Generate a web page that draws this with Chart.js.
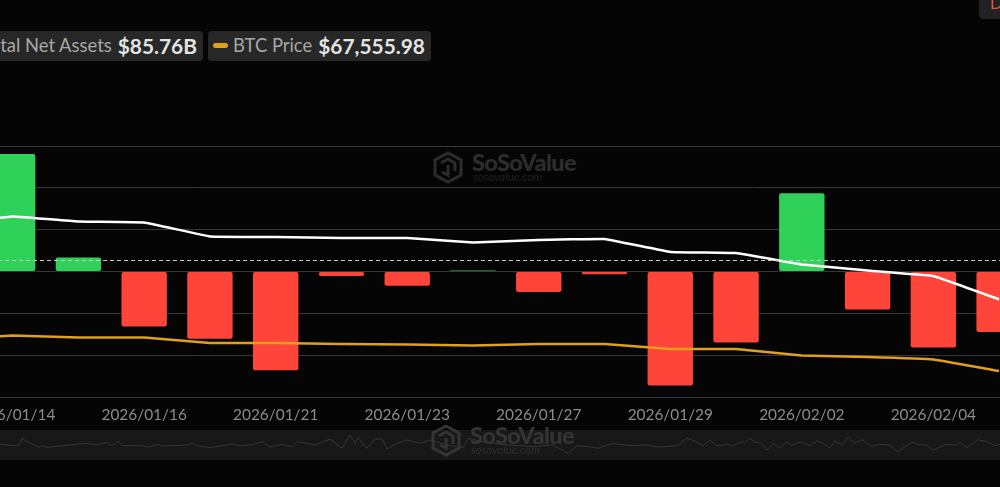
<html>
<head>
  <meta charset="utf-8">
  <title>Bitcoin ETF Daily Flow</title>
  <script src="https://cdn.jsdelivr.net/npm/chart.js"></script>
  <style>
    html, body { margin: 0; width: 1000px; height: 487px; overflow: hidden; background: #050505; font-family: 'Lato', sans-serif; }
    #mainChart { position: absolute; left: -100px; top: 0; }
    #strip { position: absolute; left: 0; top: 430px; width: 1000px; height: 30px; background: #181818; }
    #legend { position: absolute; right: 797px; top: 31px; display: flex; gap: 5px; }
    #legend2 { position: absolute; left: 208px; top: 31px; }
    .pill { display: flex; align-items: center; height: 28px; padding: 0 6px 2px 5px; background: #272727; border-radius: 4px; white-space: nowrap; color: #a8a8a8; font-size: 18.4px; }
    .pill b { color: #e4e4e4; font-size: 20.9px; margin-left: 6px; }
    .swatch { width: 15px; height: 5px; border-radius: 3px; margin-right: 5px; }
    #corner { position: absolute; left: 979px; top: -6px; width: 30px; height: 25px; background: #222; border-radius: 4px; color: #e5533d; font-size: 17px; padding-left: 11px; box-sizing: border-box; line-height: 18px; }
    .mark { position: absolute; color: #2c2c2c; }
    .mark svg { position: absolute; left: 0; top: 0; }
    .mark .name { position: absolute; left: 39px; top: -3px; font-size: 23.5px; font-weight: 900; letter-spacing: -0.6px; }
    .mark .site { position: absolute; left: 40px; top: 19px; font-size: 11.5px; font-style: italic; color: #202020; }
  </style>
</head>
<body>
  <div id="strip"><canvas id="miniChart"></canvas></div>
  <div class="mark" style="left:433px;top:151px">
    <svg width="30" height="33" viewBox="0 0 30 33" fill="none" stroke="#2c2c2c" stroke-width="3"><path d="M15 2 L28 9 V24 L15 31 L2 24 V9 Z M8 12 L15 8 L22 12 V20 M15 14 V24 L9 21"/></svg>
    <div class="name">SoSoValue</div><div class="site">sosovalue.com</div>
  </div>
  <div class="mark" style="left:431px;top:424px;color:#343434">
    <svg width="30" height="33" viewBox="0 0 30 33" fill="none" stroke="#343434" stroke-width="3"><path d="M15 2 L28 9 V24 L15 31 L2 24 V9 Z M8 12 L15 8 L22 12 V20 M15 14 V24 L9 21"/></svg>
    <div class="name">SoSoValue</div><div class="site" style="color:#2e2e2e">sosovalue.com</div>
  </div>
  <canvas id="mainChart"></canvas>
  <div id="legend">
    <div class="pill"><span class="swatch" style="background:#fff"></span>Total Net Assets<b>$85.76B</b></div>
  </div>
  <div id="legend2">
    <div class="pill"><span class="swatch" style="background:#e0a01c"></span>BTC Price<b>$67,555.98</b></div>
  </div>
  <div id="corner">D</div>

<script>
// first date sits left of the window, only its line segments show
const dates = ['2026/01/13','2026/01/14','2026/01/15','2026/01/16','2026/01/20','2026/01/21','2026/01/22','2026/01/23','2026/01/26',
  '2026/01/27','2026/01/28','2026/01/29','2026/01/30','2026/02/02','2026/02/03','2026/02/04','2026/02/05'];
// daily net inflow, US$ M
const netInflow = [754, 843, 100, -395, -483, -708, -32, -103, 7, -147, -19, -818, -509, 562, -272, -545, -434];
// total net assets, US$ B
const netAssets = [124.5, 128.1, 125.5, 125.0, 117.9, 117.6, 117.1, 117.1, 114.8, 116.1, 116.6, 110.0, 109.4, 103.6, 100.5, 97.7, 85.76];
const btcPrice = [93500, 96965, 95307, 95307, 90750, 90750, 89920, 89507, 88678, 89920, 89920, 85778, 85778, 80391, 79148, 77076, 67556];
const dashedLevel = 82;

// overview strip under the axis
const miniX = [0,17,20,22,27,33,38,42,47,63,87,97,107,112,118,123,143,148,157,162,187,193,198,210,220,232,240,
  250,262,270,282,292,297,315,330,342,350,355,358,367,375,382,387,397,407,420,430,447,463,468,483,
  500,533,553,568,577,588,598,612,633,645,658,677,687,695,703,710,717,728,732,742,745,
  750,755,760,767,773,780,787,792,800,810,817,823,830,835,842,848,855,862,872,878,890,897,912,920,925,933,947,955,960,967,978,987,995,1000];
const miniVal = [15.7,14.3,15.7,21.7,18.3,15.7,13,14.3,12.7,14.3,16.7,15,17.7,14.3,18.7,14.3,14.3,12.7,15.7,14,15,16.7,14,12.3,14,16,14.3,
  15,18.3,13,15.7,13.3,18.3,15,21,11.7,25,16.7,22.3,11.7,21,21,11,16.7,20,16.7,20,15,12.3,21.7,18.3,
  15.7,13.3,15,6.7,14.3,13.3,11.7,16.3,14.3,15,13,14.3,21.7,19,14.3,20,14.3,15.7,13.7,18.3,16.7,
  21.7,17.7,17.7,10,16.7,12.3,17.7,15,17.7,14.3,19,16.7,12.3,19,15,23,16.7,20.3,13.3,15.7,15,8.3,17.7,15,15.7,10,15.7,15,17.7,12.3,20.3,18.3,14.3,15.7];

const dashedLine = {
  id: 'dashedLine',
  afterDatasetsDraw(chart) {
    const y = Math.round(chart.scales.y.getPixelForValue(dashedLevel)) + 0.5;
    const ctx = chart.ctx;
    ctx.save();
    ctx.strokeStyle = '#c8c8c8';
    ctx.lineWidth = 1;
    ctx.setLineDash([4, 3]);
    ctx.beginPath();
    ctx.moveTo(chart.chartArea.left, y);
    ctx.lineTo(chart.chartArea.right, y);
    ctx.stroke();
    ctx.restore();
  }
};

const mainCanvas = document.getElementById('mainChart');
mainCanvas.style.width = '1160px';
mainCanvas.style.height = '487px';

new Chart(mainCanvas, {
  type: 'bar',
  data: {
    labels: dates,
    datasets: [
      { type: 'line', data: netAssets, yAxisID: 'yAssets', borderColor: '#ffffff', borderWidth: 2.5, pointRadius: 0, tension: 0.05, order: 1 },
      { type: 'line', data: btcPrice, yAxisID: 'yBtc', borderColor: '#e0a01c', borderWidth: 2.5, pointRadius: 0, tension: 0.05, order: 2 },
      {
        data: netInflow, yAxisID: 'y', order: 3,
        backgroundColor: netInflow.map(v => v >= 0 ? '#30d158' : '#ff453a'),
        barPercentage: 0.69, categoryPercentage: 1,
        borderRadius: 2, borderSkipped: false
      }
    ]
  },
  options: {
    responsive: false,
    animation: false,
    layout: { padding: { left: 14, right: 28, top: 146, bottom: 0 } },
    plugins: { legend: { display: false }, tooltip: { enabled: false } },
    scales: {
      x: {
        grid: { display: false },
        border: { display: false },
        afterFit(s) { s.height = 90; },
        ticks: {
          autoSkip: false, maxRotation: 0, padding: 1,
          color: '#8c8c8c', font: { family: 'Lato', size: 15.4 },
          callback(v, i) { return i % 2 === 1 ? dates[i] : ''; }
        }
      },
      y: {
        min: -900, max: 900,
        grid: { color: '#363636', lineWidth: 1, drawTicks: false },
        border: { display: false },
        ticks: { display: false, stepSize: 300 },
        afterFit(s) { s.width = 0; }
      },
      yAssets: { display: false, min: 36, max: 164 },
      yBtc: { display: false, min: 46000, max: 254000 }
    }
  },
  plugins: [dashedLine]
});

const miniCanvas = document.getElementById('miniChart');
miniCanvas.style.width = '1000px';
miniCanvas.style.height = '30px';

new Chart(miniCanvas, {
  type: 'scatter',
  data: {
    datasets: [{
      data: miniX.map((x, i) => ({ x: x, y: miniVal[i] })),
      showLine: true, borderColor: '#363636', borderWidth: 1, pointRadius: 0
    }]
  },
  options: {
    responsive: false,
    animation: false,
    plugins: { legend: { display: false }, tooltip: { enabled: false } },
    scales: {
      x: { display: false, min: 0, max: 1000 },
      y: { display: false, min: 0, max: 30 }
    }
  }
});
</script>
</body>
</html>
